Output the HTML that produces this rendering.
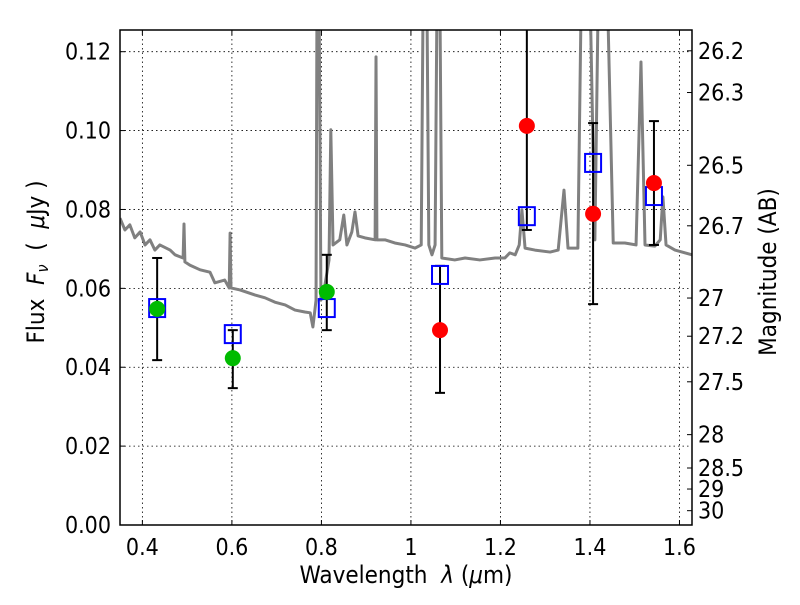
<!DOCTYPE html>
<html><head><meta charset="utf-8"><style>
body{margin:0;background:#fff}
svg text{font-family:"DejaVu Sans Condensed","DejaVu Sans","Liberation Sans Narrow",sans-serif;font-stretch:condensed;fill:#000;white-space:pre}
</style></head><body>
<svg id="chart" width="800" height="600" xmlns="http://www.w3.org/2000/svg"></svg>
<script>
const specLam=[0.350,0.361,0.372,0.383,0.395,0.406,0.417,0.428,0.439,0.462,0.473,0.491,0.493,0.495,0.506,0.529,0.551,0.562,0.584,0.594,0.596,0.598,0.618,0.652,0.674,0.696,0.719,0.741,0.763,0.775,0.781,0.788,0.790,0.795,0.799,0.808,0.817,0.821,0.826,0.841,0.850,0.857,0.868,0.875,0.882,0.897,0.920,0.922,0.924,0.942,0.964,0.987,1.009,1.023,1.027,1.036,1.040,1.047,1.054,1.058,1.065,1.069,1.098,1.121,1.154,1.188,1.210,1.221,1.233,1.242,1.248,1.255,1.277,1.311,1.329,1.342,1.351,1.373,1.380,1.401,1.411,1.418,1.440,1.452,1.478,1.503,1.514,1.523,1.545,1.557,1.563,1.570,1.590,1.628];
const specFlux=[0.0778,0.0748,0.0761,0.0728,0.0743,0.0710,0.0723,0.0697,0.0710,0.0697,0.0685,0.0677,0.0763,0.0667,0.0659,0.0647,0.0641,0.0614,0.0621,0.0601,0.0740,0.0601,0.0596,0.0583,0.0576,0.0565,0.0558,0.0545,0.0540,0.0538,0.0502,0.0570,0.13,0.13,0.0570,0.0609,0.0672,0.1002,0.0710,0.0723,0.0786,0.0710,0.0743,0.0794,0.0733,0.0728,0.0723,0.1187,0.0723,0.0723,0.0715,0.0710,0.0702,0.0710,0.13,0.13,0.0710,0.0685,0.0710,0.13,0.13,0.0677,0.0672,0.0677,0.0672,0.0677,0.0677,0.0690,0.0685,0.0710,0.0799,0.0702,0.0697,0.0692,0.0697,0.0849,0.0702,0.0702,0.13,0.13,0.0723,0.13,0.13,0.0715,0.0715,0.0710,0.1174,0.0710,0.0707,0.0723,0.0832,0.0710,0.0697,0.0685];
const greenLam=[0.433,0.602,0.812];
const greenFlux=[0.0548,0.0423,0.0591];
const modelLam=[0.433,0.602,0.812,1.065,1.259,1.407,1.543];
const modelFlux=[0.0550,0.0484,0.0550,0.0634,0.0783,0.0918,0.0834];
const redLam=[1.065,1.259,1.407,1.543];
const redFlux=[0.0494,0.1012,0.0789,0.0867];
const errLam=[0.433,0.602,0.812,1.065,1.259,1.407,1.543];
const errLo=[0.0418,0.0347,0.0494,0.0335,0.0748,0.0560,0.0710];
const errHi=[0.0677,0.0494,0.0685,0.0657,0.14,0.1019,0.1024];
const xTicks=[0.4,0.6,0.8,1.0,1.2,1.4,1.6];
const xTickLabels=["0.4","0.6","0.8","1","1.2","1.4","1.6"];
const yTicks=[0,0.02,0.04,0.06,0.08,0.10,0.12];
const yTickLabels=["0.00","0.02","0.04","0.06","0.08","0.10","0.12"];
const magTicks=[26.2,26.3,26.5,26.7,27,27.2,27.5,28,28.5,29,30];
const magTickLabels=["26.2","26.3","26.5","26.7","27","27.2","27.5","28","28.5","29","30"];

const L=120,R=692,T=30,B=525,X0=0.35,X1=1.628,Y0=0,Y1=0.1255;
const sx=v=>L+(v-X0)/(X1-X0)*(R-L);
const sy=v=>B-(v-Y0)/(Y1-Y0)*(B-T);
const NS="http://www.w3.org/2000/svg";
const svg=document.getElementById('chart');
function mk(tag,attrs,parent){const e=document.createElementNS(NS,tag);for(const k in attrs)e.setAttribute(k,attrs[k]);(parent||svg).appendChild(e);return e;}

const defs=mk('defs',{});
const cp=mk('clipPath',{id:'clip'},defs);mk('rect',{x:L,y:T,width:R-L,height:B-T},cp);

const grid=mk('g',{});


xTicks.forEach((t,i)=>{const x=sx(t);
 mk('line',{x1:x,x2:x,y1:T,y2:B,stroke:'#000','stroke-width':0.8,'stroke-dasharray':'1.5,3'},grid);
 mk('line',{x1:x,x2:x,y1:B,y2:B-5,stroke:'#000'},grid);
 mk('line',{x1:x,x2:x,y1:T,y2:T+5,stroke:'#000'},grid);
 const tx=mk('text',{x:x,y:B+30,'font-size':23,'text-anchor':'middle'});tx.textContent=xTickLabels[i];
 
 
});
yTicks.forEach((t,i)=>{const y=sy(t);
 if(t>0) mk('line',{x1:L,x2:R,y1:y,y2:y,stroke:'#000','stroke-width':0.8,'stroke-dasharray':'1.5,3'},grid);
 mk('line',{x1:L,x2:L+5,y1:y,y2:y,stroke:'#000'},grid);
 const tx=mk('text',{x:L-9,y:y+8,'font-size':23,'text-anchor':'end'});tx.textContent=yTickLabels[i];
 
 
});
magTicks.forEach((m,i)=>{const f=Math.pow(10,(23.9-m)/2.5);const y=sy(f);
 mk('line',{x1:R,x2:R-5,y1:y,y2:y,stroke:'#000'},grid);
 const tx=mk('text',{x:R+6,y:y+8,'font-size':23});tx.textContent=magTickLabels[i];
 
 
});

const spec=mk('polyline',{points:specLam.map((l,i)=>sx(l)+','+sy(specFlux[i])).join(' '),fill:'none',stroke:'#808080','stroke-width':3,'stroke-linejoin':'round','clip-path':'url(#clip)'});



errLam.forEach((l,i)=>{const x=sx(l);
 const g=mk('g',{'clip-path':'url(#clip)'});
 
 
 mk('line',{x1:x,x2:x,y1:sy(errLo[i]),y2:sy(errHi[i]),stroke:'#000','stroke-width':2},g);
 mk('line',{x1:x-5,x2:x+5,y1:sy(errLo[i]),y2:sy(errLo[i]),stroke:'#000','stroke-width':2},g);
 mk('line',{x1:x-5,x2:x+5,y1:sy(errHi[i]),y2:sy(errHi[i]),stroke:'#000','stroke-width':2},g);
});
modelLam.forEach((l,i)=>{
 const r=mk('rect',{x:sx(l)-8,y:sy(modelFlux[i])-9,width:16,height:18,fill:'none',stroke:'#0000ff','stroke-width':2});
 
 
});
greenLam.forEach((l,i)=>{
 const c=mk('ellipse',{cx:sx(l),cy:sy(greenFlux[i]),rx:8,ry:8,fill:'#00bb00'});
 
 
});
redLam.forEach((l,i)=>{
 const c=mk('ellipse',{cx:sx(l),cy:sy(redFlux[i]),rx:8,ry:8,fill:'#ff0000'});
 
 
});

const frame=mk('rect',{x:L,y:T,width:R-L,height:B-T,fill:'none',stroke:'#000','stroke-width':1.5});



const xl=mk('text',{x:406,y:583,'font-size':24,'text-anchor':'middle'});
xl.innerHTML='Wavelength  <tspan font-style="italic">λ</tspan> (<tspan font-style="italic">μ</tspan>m)';


const yl=mk('text',{x:0,y:0,'font-size':24,'text-anchor':'middle',transform:'translate(44,262) rotate(-90)'});
yl.innerHTML='Flux  <tspan font-style="italic">F</tspan><tspan font-style="italic" font-size="16" dy="4">ν</tspan><tspan dy="-4">  (  </tspan><tspan font-style="italic">μ</tspan>Jy )';


const yr=mk('text',{x:0,y:0,'font-size':24,'text-anchor':'middle',transform:'translate(776,272) rotate(-90)'});
yr.textContent='Magnitude (AB)';


</script>
</body></html>
